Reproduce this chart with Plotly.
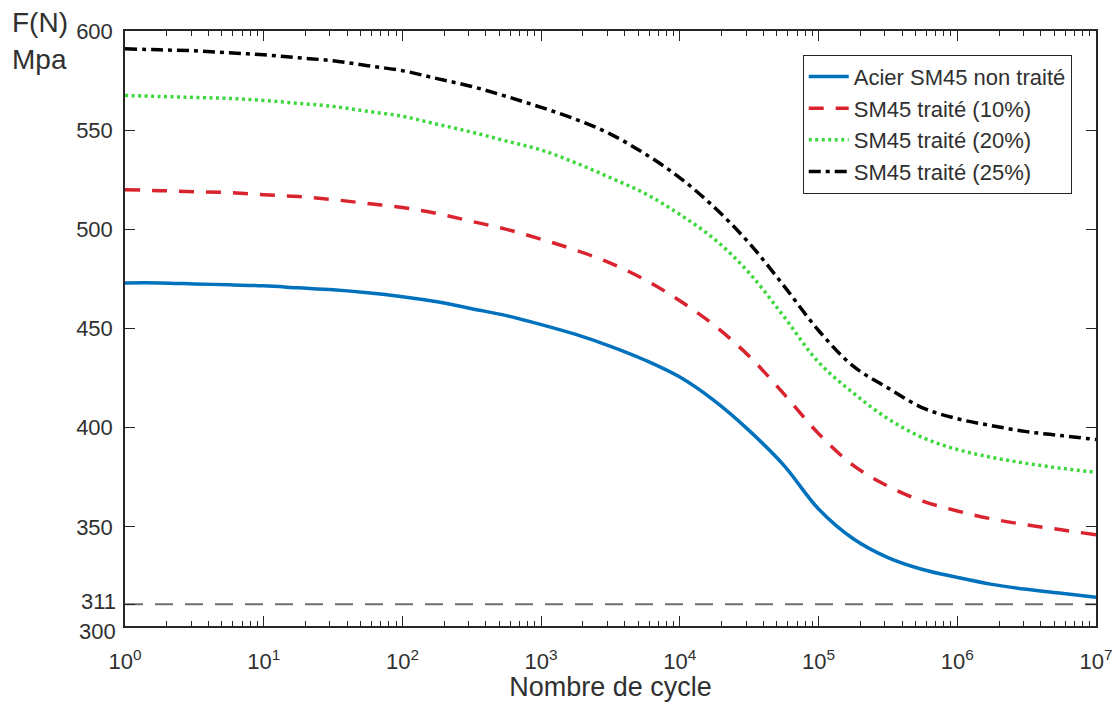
import plotly.graph_objects as go

# ---- data ----
log_cycles = [0, 0.25, 0.5, 0.75, 1, 1.25, 1.5, 1.75, 2, 2.25, 2.5, 2.75, 3, 3.25, 3.5,
              3.75, 4, 4.25, 4.5, 4.75, 5, 5.25, 5.5, 5.75, 6, 6.25, 6.5, 6.75, 7]
cycles = [10 ** e for e in log_cycles]

acier_non_traite = [473, 473, 472.5, 472, 471.5, 470.5, 469.5, 468, 466, 463.5, 460, 456.5, 452, 447, 441,
                    434, 425.5, 413.5, 398.5, 381, 359, 344, 334.5, 328.5, 324.5, 321, 318.5, 316.5, 314.5]
traite_10 = [520, 519.5, 519, 518.5, 517.5, 516.5, 515, 513, 511, 508, 504, 500, 495, 489.5, 483,
             474.5, 464, 451.5, 436, 417, 397, 381, 370.5, 363, 358, 354, 351, 348.5, 346]
traite_20 = [567.5, 567, 566.5, 566, 565, 563.5, 562, 559.5, 557, 553, 549, 544.5, 540, 533.5, 526,
             518, 507.5, 495, 478, 456, 433, 417.5, 404.5, 395, 389, 385, 382, 379.5, 377.5]
traite_25 = [591, 590.5, 590, 589, 588, 586.5, 585, 582.5, 580, 576, 572, 567, 561.5, 555.5, 548,
             538, 526, 511, 493, 471.5, 449, 431, 420, 410, 404.5, 401, 398, 396, 394]

limit_value = 311
limit_x = [1, 1e7]

series_names = ["Acier SM45 non traité", "SM45 traité (10%)", "SM45 traité (20%)", "SM45 traité (25%)"]

x_tick_exps = [0, 1, 2, 3, 4, 5, 6, 7]
y_ticks = [300, 311, 350, 400, 450, 500, 550, 600]
y_low_labels = [300, 311]          # drawn as separate labels, nudged apart
y_low_shift = [-5, 3]

FONT = "Liberation Sans, Arial, sans-serif"
AX = "#262626"
TXT = "#303030"

fig = go.Figure()

fig.add_trace(go.Scatter(x=limit_x, y=[limit_value, limit_value], mode="lines",
                         line=dict(color="#6e6e6e", width=2, dash="18px,12px"),
                         showlegend=False, hoverinfo="skip"))

styles = [
    dict(color="#0072BD", width=3.5, dash="solid"),
    dict(color="#D9232E", width=3.5, dash="15px,12px"),
    dict(color="#3CD83C", width=3.5, dash="3px,3.5px"),
    dict(color="#000000", width=3.5, dash="12px,5px,4px,5px"),
]
for name, ys, st in zip(series_names, [acier_non_traite, traite_10, traite_20, traite_25], styles):
    fig.add_trace(go.Scatter(x=cycles, y=ys, mode="lines", name=name,
                             line=dict(shape="spline", smoothing=1, **st)))

minor_vals = []
for e in range(7):
    for m in range(2, 10):
        minor_vals.append(m * 10 ** e)

fig.update_xaxes(type="log", range=[0, 7], automargin=False,
                 tickvals=[10 ** e for e in x_tick_exps],
                 ticktext=["10<sup>%d</sup>" % e for e in x_tick_exps],
                 ticks="inside", ticklen=10, tickwidth=1.2, tickcolor=AX,
                 minor=dict(tickvals=minor_vals, ticks="inside", ticklen=5, tickwidth=1.2, tickcolor=AX, showgrid=False),
                 showline=True, linecolor=AX, linewidth=1.5, mirror="allticks",
                 showgrid=False, zeroline=False,
                 tickfont=dict(family=FONT, size=22, color=TXT),
                 ticklabelstandoff=15,
                 title=dict(text="Nombre de cycle", font=dict(family=FONT, size=27, color=TXT), standoff=0))

fig.update_yaxes(range=[300, 600], automargin=False, tickvals=y_ticks,
                 ticktext=["" if v in y_low_labels else str(v) for v in y_ticks],
                 ticks="inside", ticklen=10, tickwidth=1.2, tickcolor=AX,
                 showline=True, linecolor=AX, linewidth=1.5, mirror="allticks",
                 showgrid=False, zeroline=False,
                 tickfont=dict(family=FONT, size=22, color=TXT),
                 ticklabelstandoff=6)

for v, s in zip(y_low_labels, y_low_shift):
    fig.add_annotation(text=str(v), xref="paper", yref="y", x=0, y=v,
                       xanchor="right", yanchor="middle", xshift=-7, yshift=s,
                       showarrow=False, font=dict(family=FONT, size=22, color=TXT))

fig.add_annotation(text="F(N)", xref="paper", yref="paper", x=-0.118, y=1.015,
                   xanchor="left", yanchor="middle", showarrow=False,
                   font=dict(family=FONT, size=28, color=TXT))
fig.add_annotation(text="Mpa", xref="paper", yref="paper", x=-0.118, y=0.952,
                   xanchor="left", yanchor="middle", showarrow=False,
                   font=dict(family=FONT, size=28, color=TXT))

fig.update_layout(width=1120, height=702,
                  margin=dict(l=125, r=24, t=31, b=76),
                  paper_bgcolor="white", plot_bgcolor="white",
                  legend=dict(x=0.975, y=0.96, xanchor="right", yanchor="top",
                              bgcolor="white", bordercolor="#262626", borderwidth=1,
                              font=dict(family=FONT, size=22, color=TXT),
                              tracegroupgap=0, itemwidth=40),
                  showlegend=True)

fig.write_html("out.html")
